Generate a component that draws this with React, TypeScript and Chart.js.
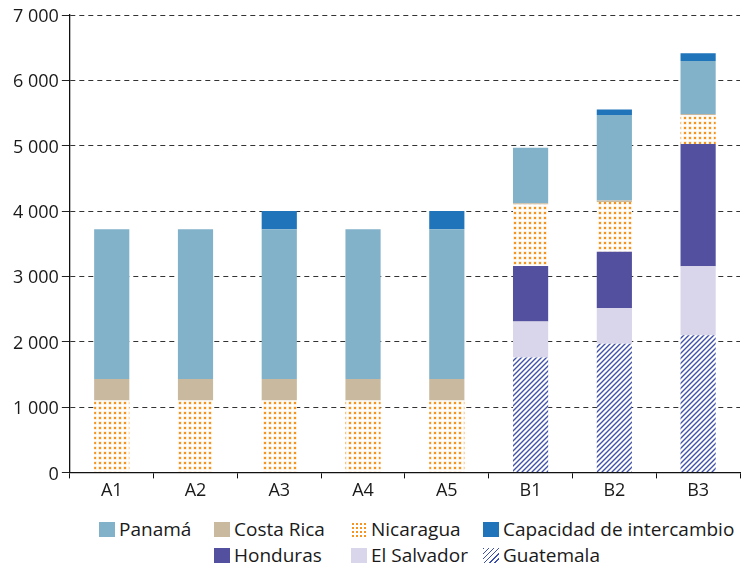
import React, { useEffect, useRef } from 'react';
import { Chart, registerables } from 'chart.js';

Chart.register(...registerables);

const categories = ['A1', 'A2', 'A3', 'A4', 'A5', 'B1', 'B2', 'B3'];
const guatemala = [0, 0, 0, 0, 0, 1760, 1970, 2100];
const elSalvador = [0, 0, 0, 0, 0, 550, 545, 1055];
const honduras = [0, 0, 0, 0, 0, 850, 860, 1870];
const nicaragua = [1100, 1100, 1100, 1100, 1100, 940, 765, 440];
const costaRica = [330, 330, 330, 330, 330, 20, 20, 20];
const panama = [2290, 2290, 2290, 2290, 2290, 850, 1310, 810];
const capacidad = [0, 0, 280, 0, 280, 0, 85, 120];

const seriesNames = ['Panamá', 'Costa Rica', 'Nicaragua', 'Capacidad de intercambio', 'Honduras', 'El Salvador', 'Guatemala'];

const FONT = "'Open Sans', sans-serif";
const C_PANAMA = '#82B2C9';
const C_COSTA = '#C9B99F';
const C_CAP = '#1F74BA';
const C_HOND = '#5450A0';
const C_SALV = '#D9D5EA';
const C_GUAT = '#3F50AA';
const C_NICA = '#F7941E';
const TEXT = '#1a1a1a';

function dotPattern(ctx: CanvasRenderingContext2D): CanvasPattern | string {
  const c = document.createElement('canvas');
  c.width = 5;
  c.height = 5;
  const g = c.getContext('2d')!;
  g.fillStyle = '#ffffff';
  g.fillRect(0, 0, 5, 5);
  g.fillStyle = C_NICA;
  g.fillRect(1, 1, 2, 2);
  g.globalAlpha = 0.35;
  g.fillRect(0.5, 0.5, 3, 3);
  return ctx.createPattern(c, 'repeat') || C_NICA;
}

function hatchPattern(ctx: CanvasRenderingContext2D): CanvasPattern | string {
  const s = 5;
  const c = document.createElement('canvas');
  c.width = s;
  c.height = s;
  const g = c.getContext('2d')!;
  g.fillStyle = '#ffffff';
  g.fillRect(0, 0, s, s);
  g.strokeStyle = C_GUAT;
  g.lineWidth = 1.35;
  g.beginPath();
  g.moveTo(0, s);
  g.lineTo(s, 0);
  g.moveTo(-1, 1);
  g.lineTo(1, -1);
  g.moveTo(s - 1, s + 1);
  g.lineTo(s + 1, s - 1);
  g.stroke();
  return ctx.createPattern(c, 'repeat') || C_GUAT;
}

const fmt = (v: number) => {
  const n = Math.round(v);
  if (n < 1000) return String(n);
  const s = String(n);
  return s.slice(0, s.length - 3) + ' ' + s.slice(s.length - 3);
};

const swatchStyles: Record<string, React.CSSProperties> = {
  'Panamá': { background: C_PANAMA },
  'Costa Rica': { background: C_COSTA },
  'Nicaragua': {
    backgroundColor: '#fff',
    backgroundImage: `radial-gradient(circle, ${C_NICA} 1.1px, transparent 1.4px)`,
    backgroundSize: '4px 4px',
  },
  'Capacidad de intercambio': { background: C_CAP },
  'Honduras': { background: C_HOND },
  'El Salvador': { background: C_SALV },
  'Guatemala': {
    backgroundColor: '#fff',
    backgroundImage: `repeating-linear-gradient(135deg, ${C_GUAT} 0 1.2px, #fff 1.2px 3.6px)`,
  },
};

// legend placement (left in px within legend box, row index)
const legendPlacement: Record<string, [number, number]> = {
  'Panamá': [91, 0],
  'Costa Rica': [206, 0],
  'Nicaragua': [343, 0],
  'Capacidad de intercambio': [475, 0],
  'Honduras': [206, 1],
  'El Salvador': [343, 1],
  'Guatemala': [475, 1],
};

export default function App() {
  const ref = useRef<HTMLCanvasElement | null>(null);

  useEffect(() => {
    document.documentElement.style.overflow = 'hidden';
    const canvas = ref.current!;
    const ctx = canvas.getContext('2d')!;
    const dots = dotPattern(ctx);
    const hatch = hatchPattern(ctx);

    const ds = (label: string, data: number[], bg: any) => ({
      label,
      data,
      backgroundColor: bg,
      borderWidth: 0,
      categoryPercentage: 1,
      barPercentage: 0.42,
    });

    const chart = new Chart(ctx, {
      type: 'bar',
      data: {
        labels: categories,
        datasets: [
          ds('Guatemala', guatemala, hatch),
          ds('El Salvador', elSalvador, C_SALV),
          ds('Honduras', honduras, C_HOND),
          ds('Nicaragua', nicaragua, dots),
          ds('Costa Rica', costaRica, C_COSTA),
          ds('Panamá', panama, C_PANAMA),
          ds('Capacidad de intercambio', capacidad, C_CAP),
        ],
      },
      options: {
        responsive: false,
        animation: false,
        layout: { padding: { top: 2, left: 2, right: 6, bottom: 10 } },
        plugins: {
          legend: { display: false },
          tooltip: { enabled: false },
        },
        scales: {
          x: {
            stacked: true,
            grid: {
              display: true,
              drawOnChartArea: false,
              tickLength: 6,
              tickColor: '#111',
              offset: true,
            },
            border: { display: true, color: '#111', width: 1.3 },
            ticks: { color: TEXT, font: { family: FONT, size: 18 }, padding: 2 },
          },
          y: {
            stacked: true,
            min: 0,
            max: 7000,
            afterFit: (s: any) => {
              s.paddingTop = 9;
            },
            grid: {
              color: '#333',
              lineWidth: 1,
              tickLength: 8,
              tickColor: '#222',
              tickBorderDash: [],
            },
            border: { display: true, color: '#111', width: 1.3, dash: [5, 4] },
            ticks: {
              stepSize: 1000,
              color: TEXT,
              font: { family: FONT, size: 18, lineHeight: 1 },
              padding: 3,
              labelOffset: 2,
              callback: (v: any) => fmt(Number(v)),
            },
          },
        },
      },
    });
    return () => chart.destroy();
  }, []);

  return (
    <div style={{ width: 738, marginTop: -2 }}>
      <canvas ref={ref} width={738} height={508} style={{ display: 'block', width: 738, height: 508 }} />
      <div style={{ position: 'relative', height: 54, fontFamily: FONT, fontSize: 19, color: TEXT }}>
        {seriesNames.map((name) => {
          const [left, row] = legendPlacement[name];
          return (
            <div
              key={name}
              style={{
                position: 'absolute',
                left,
                top: row === 0 ? 2 : 28,
                height: 26,
                lineHeight: '26px',
                display: 'flex',
                alignItems: 'center',
                whiteSpace: 'nowrap',
              }}
            >
              <span style={{ display: 'inline-block', width: 16, height: 15, marginRight: 4, ...swatchStyles[name] }} />
              <span>{name}</span>
            </div>
          );
        })}
      </div>
    </div>
  );
}
